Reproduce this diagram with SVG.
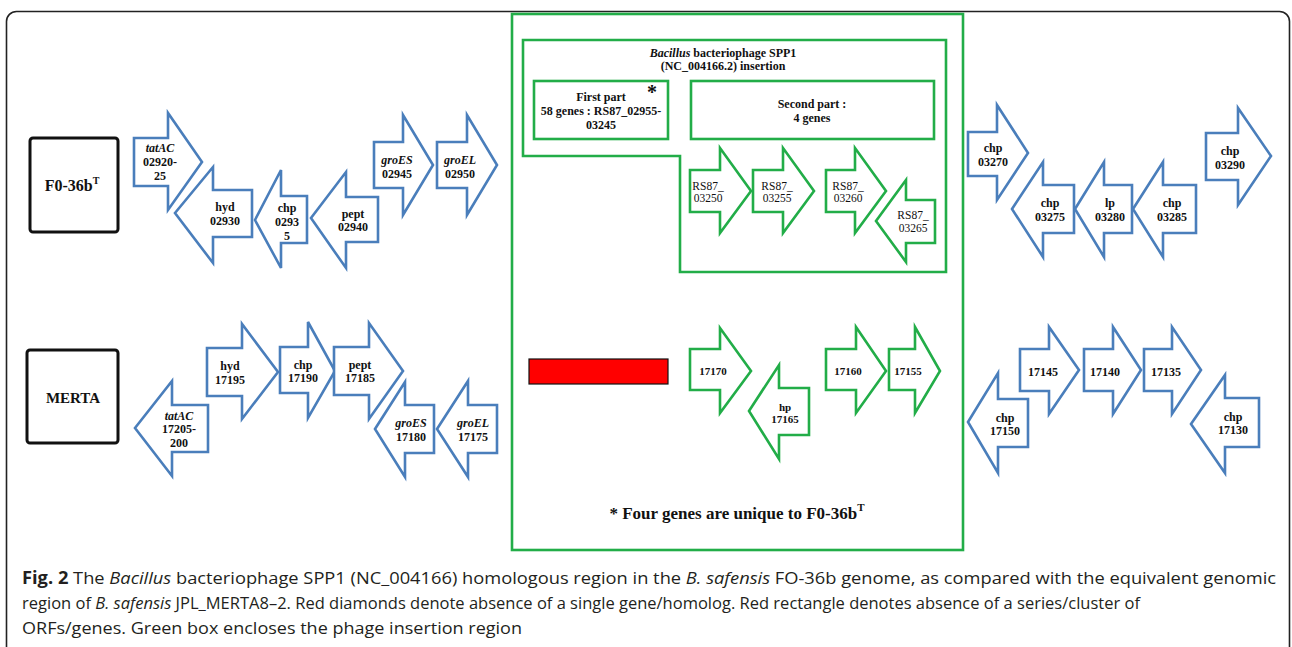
<svg xmlns="http://www.w3.org/2000/svg" width="1292" height="647" viewBox="0 0 1292 647">
<style>
.b{fill:#fff;stroke:#4a7ebb;stroke-width:2.6;stroke-linejoin:miter}
.g{fill:#fff;stroke:#22ad48;stroke-width:2.6}
.gb{fill:none;stroke:#22ad48;stroke-width:2.6}
.t{font-family:"Liberation Serif",serif;font-weight:bold;font-size:12px;fill:#111;text-anchor:middle}
.s11{font-size:11px}
.tn{font-family:"Liberation Serif",serif;font-size:11.5px;fill:#111;text-anchor:middle}
.i{font-style:italic}
.cap{font-family:"Open Sans","Liberation Sans",sans-serif;font-size:17px;fill:#231f20}
</style>
<rect x="6.5" y="11.5" width="1283" height="660" rx="10" fill="#fff" stroke="#222" stroke-width="1.6"/>

<g id="phage-region">
<rect x="512" y="14" width="451" height="536" class="gb"/>
<polygon points="523,40 946,40 946,272 680,272 680,156 523,156" class="gb"/>
<text class="t" x="723" y="57"><tspan class="i">Bacillus</tspan> bacteriophage SPP1</text>
<text class="t" x="723" y="70">(NC_004166.2) insertion</text>
</g>

<g id="first-part">
<rect x="534" y="81" width="134" height="58" class="gb"/>
<text class="t" x="601" y="101">First part</text>
<text class="t" x="601" y="115">58 genes : RS87_02955-</text>
<text class="t" x="601" y="129">03245</text>
<text class="t" x="652" y="99" style="font-size:20px">*</text>
</g>
<g id="second-part">
<rect x="691" y="81" width="243" height="58" class="gb"/>
<text class="t" x="812" y="108">Second part :</text>
<text class="t" x="812" y="122">4 genes</text>
</g>

<g id="F0-36bT">
<rect x="30" y="138" width="88" height="94" rx="3" fill="#fff" stroke="#111" stroke-width="3"/>
<text class="t" x="72" y="191" style="font-size:16px">F0-36b<tspan style="font-size:10px" dy="-7">T</tspan></text>
</g>
<g id="MERTA">
<rect x="27" y="350" width="91" height="93" rx="3" fill="#fff" stroke="#111" stroke-width="3"/>
<text class="t" x="73" y="403" style="font-size:15px">MERTA</text>
</g>

<g id="tatAC-02920-25"><polygon class="b" points="134,138 168,138 168,113 202,162 168,210 168,186 134,186"/>
<text class="t i" x="160" y="152">tatAC</text><text class="t" x="160" y="166">02920-</text><text class="t" x="160" y="180">25</text></g>
<g id="hyd-02930"><polygon class="b" points="175,213 213,167 213,190 252,190 252,237 213,237 213,263"/>
<text class="t" x="225" y="211">hyd</text><text class="t" x="225" y="225">02930</text></g>
<g id="chp-02935"><polygon class="b" points="255,220 281,170 281,196 307,196 307,243 281,243 281,268"/>
<text class="t" x="287" y="212">chp</text><text class="t" x="287" y="226">0293</text><text class="t" x="287" y="240">5</text></g>
<g id="pept-02940"><polygon class="b" points="311,218 346,172 346,197 378,197 378,242 346,242 346,268"/>
<text class="t" x="353" y="218">pept</text><text class="t" x="353" y="231">02940</text></g>
<g id="groES-02945"><polygon class="b" points="374,142 403,142 403,115 433,165 403,215 403,188 374,188"/>
<text class="t i" x="397" y="164">groES</text><text class="t" x="397" y="178">02945</text></g>
<g id="groEL-02950"><polygon class="b" points="437,142 467,142 467,115 497,165 467,215 467,188 437,188"/>
<text class="t i" x="460" y="164">groEL</text><text class="t" x="460" y="178">02950</text></g>

<g id="RS87-03250"><polygon class="g" points="690,170 720,170 720,148 751,191 720,233 720,212 690,212"/>
<text class="tn" x="708" y="190">RS87_</text><text class="tn" x="708" y="202">03250</text></g>
<g id="RS87-03255"><polygon class="g" points="753,170 783,170 783,148 814,191 783,233 783,212 753,212"/>
<text class="tn" x="777" y="190">RS87_</text><text class="tn" x="777" y="202">03255</text></g>
<g id="RS87-03260"><polygon class="g" points="826,170 855,170 855,148 886,191 855,233 855,212 826,212"/>
<text class="tn" x="848" y="190">RS87_</text><text class="tn" x="848" y="202">03260</text></g>
<g id="RS87-03265"><polygon class="g" points="876,221 906,180 906,200 935,200 935,243 906,243 906,262"/>
<text class="tn" x="913" y="219">RS87_</text><text class="tn" x="913" y="232">03265</text></g>

<g id="chp-03270"><polygon class="b" points="968,132 997,132 997,105 1028,153 997,200 997,176 968,176"/>
<text class="t" x="993" y="152">chp</text><text class="t" x="993" y="166">03270</text></g>
<g id="chp-03275"><polygon class="b" points="1012,209 1043,162 1043,185 1074,185 1074,233 1043,233 1043,257"/>
<text class="t" x="1050" y="207">chp</text><text class="t" x="1050" y="221">03275</text></g>
<g id="lp-03280"><polygon class="b" points="1075,209 1104,162 1104,185 1132,185 1132,233 1104,233 1104,257"/>
<text class="t" x="1110" y="207">lp</text><text class="t" x="1110" y="221">03280</text></g>
<g id="chp-03285"><polygon class="b" points="1133,209 1163,162 1163,185 1196,185 1196,233 1163,233 1163,257"/>
<text class="t" x="1172" y="207">chp</text><text class="t" x="1172" y="221">03285</text></g>
<g id="chp-03290"><polygon class="b" points="1206,133 1238,133 1238,108 1271,156 1238,205 1238,180 1206,180"/>
<text class="t" x="1230" y="155">chp</text><text class="t" x="1230" y="169">03290</text></g>

<g id="tatAC-17205-200"><polygon class="b" points="135,428 172,381 172,405 208,405 208,452 172,452 172,476"/>
<text class="t i" x="179" y="420">tatAC</text><text class="t" x="179" y="433">17205-</text><text class="t" x="179" y="447">200</text></g>
<g id="hyd-17195"><polygon class="b" points="207,348 242,348 242,324 278,372 242,419 242,396 207,396"/>
<text class="t" x="230" y="370">hyd</text><text class="t" x="230" y="384">17195</text></g>
<g id="chp-17190"><polygon class="b" points="280,347 308,347 308,322 335,371 308,418 308,393 280,393"/>
<text class="t" x="303" y="369">chp</text><text class="t" x="303" y="382">17190</text></g>
<g id="pept-17185"><polygon class="b" points="334,347 369,347 369,323 403,371 369,419 369,395 334,395"/>
<text class="t" x="360" y="369">pept</text><text class="t" x="360" y="382">17185</text></g>
<g id="groES-17180"><polygon class="b" points="375,429 405,382 405,405 434,405 434,453 405,453 405,477"/>
<text class="t i" x="411" y="427">groES</text><text class="t" x="411" y="441">17180</text></g>
<g id="groEL-17175"><polygon class="b" points="437,429 468,381 468,405 497,405 497,453 468,453 468,477"/>
<text class="t i" x="473" y="427">groEL</text><text class="t" x="473" y="441">17175</text></g>

<g id="absent-cluster"><rect x="529" y="359" width="139" height="25" fill="#ff0000" stroke="#111" stroke-width="1.2"/></g>

<g id="g17170"><polygon class="g" points="690,349 720,349 720,328 751,371 720,413 720,390 690,390"/>
<text class="t s11" x="713" y="375">17170</text></g>
<g id="hp-17165"><polygon class="g" points="749,411 779,365 779,388 809,388 809,435 779,435 779,459"/>
<text class="t s11" x="785" y="411">hp</text><text class="t s11" x="785" y="423">17165</text></g>
<g id="g17160"><polygon class="g" points="826,349 856,349 856,327 886,371 856,413 856,390 826,390"/>
<text class="t s11" x="848" y="375">17160</text></g>
<g id="g17155"><polygon class="g" points="889,349 915,349 915,327 940,371 915,413 915,390 889,390"/>
<text class="t s11" x="908" y="375">17155</text></g>

<g id="chp-17150"><polygon class="b" points="968,422 998,373 998,399 1028,399 1028,447 998,447 998,473"/>
<text class="t" x="1005" y="422">chp</text><text class="t" x="1005" y="435">17150</text></g>
<g id="g17145"><polygon class="b" points="1020,349 1049,349 1049,327 1079,370 1049,414 1049,391 1020,391"/>
<text class="t" x="1043" y="376">17145</text></g>
<g id="g17140"><polygon class="b" points="1084,349 1113,349 1113,327 1141,370 1113,414 1113,391 1084,391"/>
<text class="t" x="1105" y="376">17140</text></g>
<g id="g17135"><polygon class="b" points="1144,349 1172,349 1172,327 1201,370 1172,414 1172,391 1144,391"/>
<text class="t" x="1166" y="376">17135</text></g>
<g id="chp-17130"><polygon class="b" points="1191,424 1225,375 1225,398 1259,398 1259,447 1225,447 1225,473"/>
<text class="t" x="1233" y="421">chp</text><text class="t" x="1233" y="434">17130</text></g>

<g id="footnote"><text class="t" x="737" y="519" style="font-size:17px">* Four genes are unique to F0-36b<tspan style="font-size:11px" dy="-8">T</tspan></text></g>

<g id="caption">
<text class="cap" x="22" y="584" textLength="1254" lengthAdjust="spacingAndGlyphs"><tspan font-weight="bold">Fig. 2</tspan> The <tspan font-style="italic">Bacillus</tspan> bacteriophage SPP1 (NC_004166) homologous region in the <tspan font-style="italic">B. safensis</tspan> FO-36b genome, as compared with the equivalent genomic</text>
<text class="cap" x="22" y="609" textLength="1118" lengthAdjust="spacingAndGlyphs">region of <tspan font-style="italic">B. safensis</tspan> JPL_MERTA8–2. Red diamonds denote absence of a single gene/homolog. Red rectangle denotes absence of a series/cluster of</text>
<text class="cap" x="22" y="634" textLength="500" lengthAdjust="spacingAndGlyphs">ORFs/genes. Green box encloses the phage insertion region</text>
</g>
</svg>
